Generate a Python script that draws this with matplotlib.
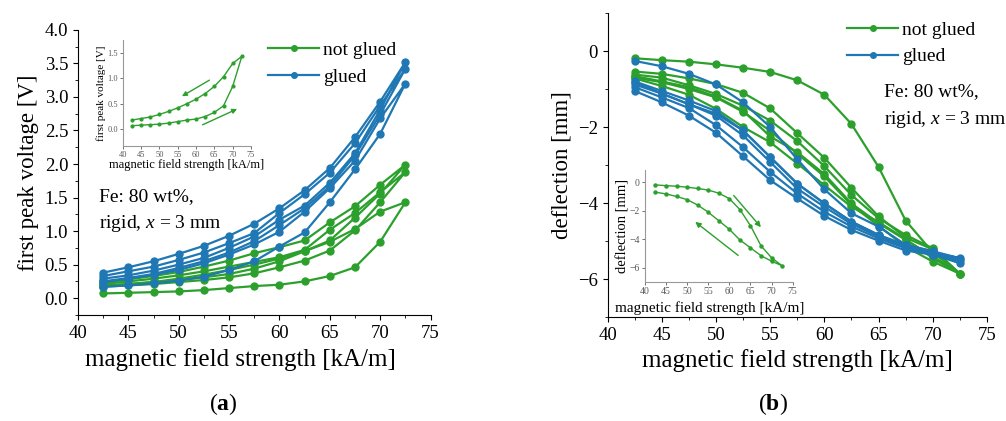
import numpy as np
import matplotlib
matplotlib.use("Agg")
import matplotlib.pyplot as plt
from matplotlib.ticker import MultipleLocator

plt.rcParams['font.family'] = ['Liberation Serif', 'DejaVu Serif']
plt.rcParams['mathtext.fontset'] = 'custom'
plt.rcParams['mathtext.it'] = 'Liberation Serif:italic'
plt.rcParams['mathtext.rm'] = 'Liberation Serif'
plt.rcParams['mathtext.bf'] = 'Liberation Serif:bold'

GREEN = '#2ca02c'
BLUE = '#1f77b4'

# field strength steps [kA/m]
H = [42.5, 45, 47.5, 50, 52.5, 55, 57.5, 60, 62.5, 65, 67.5, 70, 72.5]

# (a) first peak voltage [V]; up branch 42.5->72.5, down branch 42.5->70
volt_green_up = [
    [0.07, 0.08, 0.09, 0.10, 0.12, 0.15, 0.18, 0.20, 0.25, 0.33, 0.46, 0.84, 1.43],
    [0.17, 0.19, 0.21, 0.24, 0.27, 0.31, 0.37, 0.46, 0.56, 0.71, 1.01, 1.43, 1.88],
    [0.19, 0.21, 0.24, 0.27, 0.31, 0.36, 0.44, 0.55, 0.70, 0.86, 1.20, 1.56, 1.99],
]
volt_green_down = [
    [0.18, 0.21, 0.24, 0.29, 0.35, 0.42, 0.50, 0.59, 0.70, 0.84, 1.03, 1.29],
    [0.21, 0.25, 0.29, 0.34, 0.40, 0.47, 0.54, 0.61, 0.72, 1.02, 1.27, 1.58],
    [0.23, 0.28, 0.33, 0.39, 0.47, 0.56, 0.67, 0.76, 0.86, 1.13, 1.37, 1.69],
]
volt_blue_up = [
    [0.17, 0.19, 0.22, 0.26, 0.32, 0.42, 0.55, 0.77, 0.98, 1.43, 1.92, 2.45, 3.20],
    [0.25, 0.30, 0.36, 0.45, 0.55, 0.68, 0.85, 1.09, 1.34, 1.67, 2.13, 2.74, 3.42],
    [0.29, 0.34, 0.41, 0.50, 0.60, 0.75, 0.92, 1.17, 1.38, 1.72, 2.16, 2.81, 3.52],
]
volt_blue_down = [
    [0.24, 0.29, 0.35, 0.42, 0.52, 0.65, 0.80, 0.99, 1.29, 1.64, 2.05, 2.68],
    [0.33, 0.40, 0.47, 0.57, 0.68, 0.82, 0.97, 1.27, 1.55, 1.87, 2.31, 2.87],
    [0.38, 0.46, 0.55, 0.66, 0.78, 0.93, 1.11, 1.34, 1.61, 1.94, 2.40, 2.93],
]

# (b) deflection [mm]
defl_green_up = [
    [-0.19, -0.24, -0.28, -0.35, -0.44, -0.55, -0.77, -1.15, -1.92, -3.05, -4.46, -5.30, -5.86],
    [-0.54, -0.60, -0.72, -0.87, -1.10, -1.51, -2.16, -2.81, -3.60, -4.35, -4.91, -5.22, -5.86],
    [-0.62, -0.70, -0.90, -1.13, -1.44, -1.83, -2.37, -3.03, -3.79, -4.40, -4.84, -5.19, -5.86],
]
defl_green_down = [
    [-0.70, -0.82, -1.00, -1.22, -1.60, -2.10, -2.70, -3.30, -4.05, -4.60, -5.15, -5.54],
    [-0.66, -0.80, -0.95, -1.20, -1.57, -2.25, -2.66, -3.24, -4.01, -4.53, -4.97, -5.40],
    [-0.72, -0.92, -1.15, -1.52, -2.00, -2.40, -2.96, -3.53, -4.10, -4.50, -4.95, -5.45],
]
defl_blue_up = [
    [-0.26, -0.40, -0.60, -0.88, -1.35, -2.00, -2.85, -3.64, -4.27, -4.62, -5.10, -5.27, -5.45],
    [-0.80, -1.05, -1.30, -1.58, -2.09, -2.79, -3.49, -4.01, -4.49, -4.84, -5.10, -5.27, -5.50],
    [-0.88, -1.12, -1.40, -1.70, -2.22, -2.92, -3.62, -4.10, -4.55, -4.88, -5.15, -5.30, -5.58],
]
defl_blue_down = [
    [-0.82, -1.12, -1.40, -1.65, -2.09, -2.79, -3.49, -4.01, -4.49, -4.84, -5.15, -5.32],
    [-0.95, -1.22, -1.50, -1.95, -2.53, -3.18, -3.75, -4.23, -4.62, -4.93, -5.19, -5.36],
    [-1.05, -1.35, -1.70, -2.15, -2.77, -3.40, -3.88, -4.34, -4.71, -4.99, -5.25, -5.36],
]


def loop(up, down):
    # go up the field, then back down
    return H + H[-2::-1], up + down[::-1]


def style_axes(ax, fs):
    ax.spines['top'].set_visible(False)
    ax.spines['right'].set_visible(False)
    ax.tick_params(which='both', direction='out', labelsize=fs)


def style_inset(ax, fs):
    ax.patch.set_alpha(0)
    ax.xaxis.set_major_locator(MultipleLocator(5))
    style_axes(ax, fs)
    for s in ax.spines.values():
        s.set_color('0.6')
    ax.tick_params(colors='0.35', length=2, width=0.6, pad=1.5)


fig = plt.figure(figsize=(10.06, 4.21), dpi=100)

# ---------- (a) ----------
axa = fig.add_axes([0.0775, 0.252, 0.3505, 0.677])
for up, down in zip(volt_green_up, volt_green_down):
    axa.plot(*loop(up, down), '-o', color=GREEN, lw=1.6, ms=5)
for up, down in zip(volt_blue_up, volt_blue_down):
    axa.plot(*loop(up, down), '-o', color=BLUE, lw=1.6, ms=5)
lg1, = axa.plot([], [], '-o', color=GREEN, lw=1.6, ms=4)
lg2, = axa.plot([], [], '-o', color=BLUE, lw=1.6, ms=4)
axa.set_xlim(40, 75)
axa.set_ylim(-0.25, 4.0)
axa.xaxis.set_major_locator(MultipleLocator(5))
axa.xaxis.set_minor_locator(MultipleLocator(2.5))
axa.yaxis.set_major_locator(MultipleLocator(0.5))
axa.yaxis.set_minor_locator(MultipleLocator(0.25))
style_axes(axa, 13.5)
axa.set_xlabel('magnetic field strength [kA/m]', fontsize=18, labelpad=4)
axa.xaxis.set_label_coords(0.46, -0.115)
axa.set_ylabel('first peak voltage [V]', fontsize=16.5)
axa.legend([lg1, lg2], ['not glued', 'glued'], loc='upper left',
           bbox_to_anchor=(0.49, 1.02), frameon=False, fontsize=14,
           handlelength=2.6, handletextpad=0.2, labelspacing=0.45, numpoints=1)
axa.text(0.06, 0.40, 'Fe: 80 wt%,', transform=axa.transAxes, fontsize=14)
axa.text(0.06, 0.305, 'rigid, $x$ = 3 mm', transform=axa.transAxes, fontsize=14)

# inset (a)
ina = fig.add_axes([0.122, 0.653, 0.1275, 0.252])
ina.plot(*loop(volt_green_up[0], volt_green_down[0]), '-o', color=GREEN, lw=1, ms=2)
ina.set_xlim(40, 75)
ina.set_ylim(-0.33, 1.75)
ina.yaxis.set_major_locator(MultipleLocator(0.5))
style_inset(ina, 6)
ina.set_xlabel('magnetic field strength [kA/m]', fontsize=9, labelpad=0)
ina.set_ylabel('first peak voltage [V]', fontsize=8, labelpad=1)
ina.annotate('', xy=(55.5, 0.62), xytext=(64.3, 0.99),
             arrowprops=dict(arrowstyle='-|>', color=GREEN, lw=1, mutation_scale=7))
ina.annotate('', xy=(71.9, 0.42), xytext=(61.1, 0.065),
             arrowprops=dict(arrowstyle='-|>', color=GREEN, lw=1, mutation_scale=7))

# ---------- (b) ----------
axb = fig.add_axes([0.604, 0.247, 0.377, 0.722])
for up, down in zip(defl_green_up, defl_green_down):
    axb.plot(*loop(up, down), '-o', color=GREEN, lw=1.6, ms=5)
for up, down in zip(defl_blue_up, defl_blue_down):
    axb.plot(*loop(up, down), '-o', color=BLUE, lw=1.6, ms=5)
lg3, = axb.plot([], [], '-o', color=GREEN, lw=1.6, ms=4)
lg4, = axb.plot([], [], '-o', color=BLUE, lw=1.6, ms=4)
axb.set_xlim(40, 75)
axb.set_ylim(-7, 1)
axb.xaxis.set_major_locator(MultipleLocator(5))
axb.xaxis.set_minor_locator(MultipleLocator(2.5))
axb.yaxis.set_major_locator(MultipleLocator(2))
axb.yaxis.set_minor_locator(MultipleLocator(1))
style_axes(axb, 13.5)
axb.set_xlabel('magnetic field strength [kA/m]', fontsize=18, labelpad=4)
axb.set_ylabel('deflection [mm]', fontsize=16.5)
axb.legend([lg3, lg4], ['not glued', 'glued'], loc='upper left',
           bbox_to_anchor=(0.586, 1.03), frameon=False, fontsize=14,
           handlelength=2.6, handletextpad=0.2, labelspacing=0.45, numpoints=1)
axb.text(0.73, 0.727, 'Fe: 80 wt%,', transform=axb.transAxes, fontsize=14)
axb.text(0.73, 0.635, 'rigid, $x$ = 3 mm', transform=axb.transAxes, fontsize=14)

# inset (b)
inb = fig.add_axes([0.641, 0.330, 0.147, 0.266])
inb.plot(*loop(defl_green_up[0], defl_green_down[0]), '-o', color=GREEN, lw=1, ms=2.2)
inb.set_xlim(40, 75)
inb.set_ylim(-7, 0.85)
inb.yaxis.set_major_locator(MultipleLocator(2))
style_inset(inb, 7)
inb.set_xlabel('magnetic field strength [kA/m]', fontsize=11, labelpad=0)
inb.xaxis.set_label_coords(0.44, -0.17)
inb.set_ylabel('deflection [mm]', fontsize=10.5, labelpad=0)
inb.annotate('', xy=(67.9, -3.3), xytext=(60.6, -0.78),
             arrowprops=dict(arrowstyle='-|>', color=GREEN, lw=1, mutation_scale=8))
inb.annotate('', xy=(51.4, -2.66), xytext=(62.6, -5.25),
             arrowprops=dict(arrowstyle='-|>', color=GREEN, lw=1, mutation_scale=8))

fig.text(0.222, 0.025, r'($\mathbf{a}$)', fontsize=17, ha='center')
fig.text(0.768, 0.025, r'($\mathbf{b}$)', fontsize=17, ha='center')

fig.savefig('out.png', dpi=100)
